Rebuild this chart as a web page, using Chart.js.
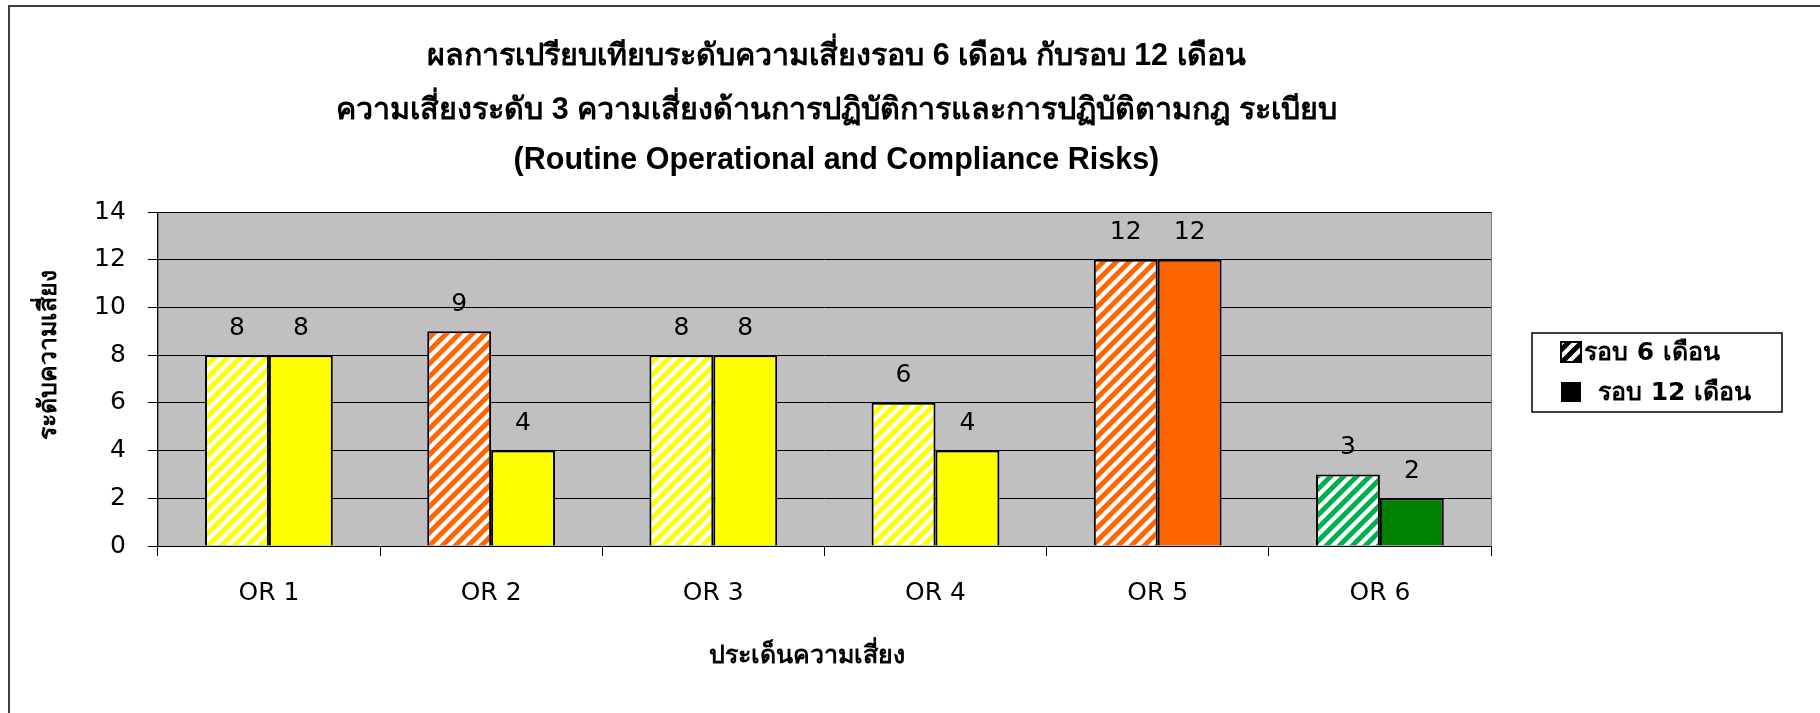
<!DOCTYPE html>
<html>
<head>
<meta charset="utf-8">
<script src="https://cdn.jsdelivr.net/npm/chart.js@4.4.0/dist/chart.umd.min.js"></script>
<style>
  html, body { margin: 0; padding: 0; background: #fff; }
  #wrap { width: 1820px; height: 713px; position: relative; }
</style>
</head>
<body>
<div id="wrap"><canvas id="myChart"></canvas></div>
<script>
const categories = ["OR 1", "OR 2", "OR 3", "OR 4", "OR 5", "OR 6"];
const round6 = [8, 9, 8, 6, 12, 3];
const round12 = [8, 4, 8, 4, 12, 2];
const seriesNames = ["รอบ 6 เดือน", "รอบ 12 เดือน"];
const yTicks = [0, 2, 4, 6, 8, 10, 12, 14];
const titleLines = [
  "ผลการเปรียบเทียบระดับความเสี่ยงรอบ 6 เดือน กับรอบ 12 เดือน",
  "ความเสี่ยงระดับ 3 ความเสี่ยงด้านการปฏิบัติการและการปฏิบัติตามกฎ ระเบียบ",
  "(Routine Operational and Compliance Risks)"
];
const yTitle = "ระดับความเสี่ยง";
const xTitle = "ประเด็นความเสี่ยง";
const colors6 = ["#FFFF00", "#FF6600", "#FFFF00", "#FFFF00", "#FF6600", "#00B050"];
const colors12 = ["#FFFF00", "#FFFF00", "#FFFF00", "#FFFF00", "#FF6600", "#008000"];

const FONT = "'DejaVu Sans', Tahoma, sans-serif";
const TITLE_FONT = "'Liberation Sans', Arial, sans-serif";

// diagonal "/" stripes on white, like excel's wide upward diagonal fill
function hatch(color) {
  const n = 13;
  const c = document.createElement("canvas");
  c.width = n; c.height = n;
  const g = c.getContext("2d");
  g.fillStyle = "#fff";
  g.fillRect(0, 0, n, n);
  g.strokeStyle = color;
  g.lineWidth = 5;
  g.beginPath();
  g.moveTo(-3, n + 3); g.lineTo(n + 3, -3);
  g.moveTo(-3, 3); g.lineTo(3, -3);
  g.moveTo(n - 3, n + 3); g.lineTo(n + 3, n - 3);
  g.stroke();
  return g.createPattern(c, "repeat");
}

const valueLabels = {
  id: "valueLabels",
  afterDatasetsDraw(chart) {
    const ctx = chart.ctx;
    ctx.save();
    ctx.font = "25px " + FONT;
    ctx.fillStyle = "#000";
    ctx.textAlign = "center";
    ctx.textBaseline = "middle";
    chart.data.datasets.forEach((ds, i) => {
      chart.getDatasetMeta(i).data.forEach((bar, j) => {
        ctx.fillText(ds.data[j], bar.x, bar.y - 27);
      });
    });
    ctx.restore();
  }
};

// titles are placed by hand, excel does not centre them on the plot
const titles = {
  id: "titles",
  afterDraw(chart) {
    const {ctx, chartArea: a} = chart;
    const cx = (a.left + a.right) / 2;
    ctx.save();
    ctx.fillStyle = "#000";
    ctx.textAlign = "center";
    ctx.textBaseline = "middle";
    ctx.font = "bold 30.5px " + TITLE_FONT;
    [57, 111, 161].forEach((y, i) => ctx.fillText(titleLines[i], cx + 12, y));
    ctx.font = "bold 25px " + FONT;
    ctx.fillText(xTitle, cx - 17, 656);
    ctx.translate(49, (a.top + a.bottom) / 2 - 24);
    ctx.rotate(-Math.PI / 2);
    ctx.fillText(yTitle, 0, 0);
    ctx.restore();
  }
};

const frameAndLegend = {
  id: "frameAndLegend",
  beforeDraw(chart) {
    const {ctx, chartArea: a} = chart;
    ctx.save();
    ctx.fillStyle = "#fff";
    ctx.fillRect(0, 0, chart.width, chart.height);
    ctx.fillStyle = "#C0C0C0";
    ctx.fillRect(a.left, a.top, a.right - a.left, a.bottom - a.top);
    ctx.strokeStyle = "#808080";
    ctx.lineWidth = 1;
    ctx.strokeRect(a.left + 0.5, a.top + 0.5, a.right - a.left, a.bottom - a.top);
    ctx.restore();
  },
  afterDraw(chart) {
    const {ctx, chartArea: a} = chart;
    ctx.save();
    // outer frame
    ctx.strokeStyle = "#404040";
    ctx.lineWidth = 2;
    ctx.strokeRect(9, 6, chart.width + 20, chart.height + 20);
    // legend box
    const lx = a.right + 41, ly = 333, lw = 250, lh = 79;
    ctx.strokeStyle = "#000";
    ctx.lineWidth = 1.5;
    ctx.strokeRect(lx, ly, lw, lh);
    ctx.font = "bold 25px " + FONT;
    ctx.textBaseline = "middle";
    // item 1 hatched marker
    ctx.fillStyle = hatch("#000");
    ctx.fillRect(lx + 29, ly + 9, 20, 20);
    ctx.strokeStyle = "#000";
    ctx.lineWidth = 2;
    ctx.strokeRect(lx + 29, ly + 9, 20, 20);
    ctx.fillStyle = "#000";
    ctx.fillText(seriesNames[0], lx + 52, ly + 20);
    // item 2 solid marker
    ctx.fillRect(lx + 29, ly + 49, 20, 20);
    ctx.fillText(seriesNames[1], lx + 66, ly + 60);
    ctx.restore();
  }
};

const ctx = document.getElementById("myChart");

new Chart(ctx, {
  type: "bar",
  data: {
    labels: categories,
    datasets: [
      {
        label: seriesNames[0],
        data: round6,
        backgroundColor: colors6.map(hatch),
        borderColor: "#000",
        borderWidth: 2
      },
      {
        label: seriesNames[1],
        data: round12,
        backgroundColor: colors12,
        borderColor: "#000",
        borderWidth: 2
      }
    ]
  },
  options: {
    responsive: true,
    maintainAspectRatio: false,
    animation: false,
    layout: { padding: { left: 72, right: 329, top: 212, bottom: 83 } },
    datasets: { bar: { categoryPercentage: 0.575, barPercentage: 1 } },
    plugins: {
      legend: { display: false },
      tooltip: { enabled: false },
      title: { display: false }
    },
    scales: {
      x: {
        grid: { offset: true, drawOnChartArea: false, tickLength: 10, color: "#000" },
        border: { color: "#000", width: 1 },
        ticks: { color: "#000", padding: 22, font: { family: FONT, size: 25 } }
      },
      y: {
        min: yTicks[0],
        max: yTicks[yTicks.length - 1],
        afterBuildTicks: s => { s.ticks = yTicks.map(v => ({ value: v })); },
        grid: { color: "#000", tickLength: 10 },
        border: { color: "#000", width: 1 },
        ticks: { color: "#000", padding: 22, font: { family: FONT, size: 25 } }
      }
    }
  },
  plugins: [frameAndLegend, valueLabels, titles]
});
</script>
</body>
</html>
